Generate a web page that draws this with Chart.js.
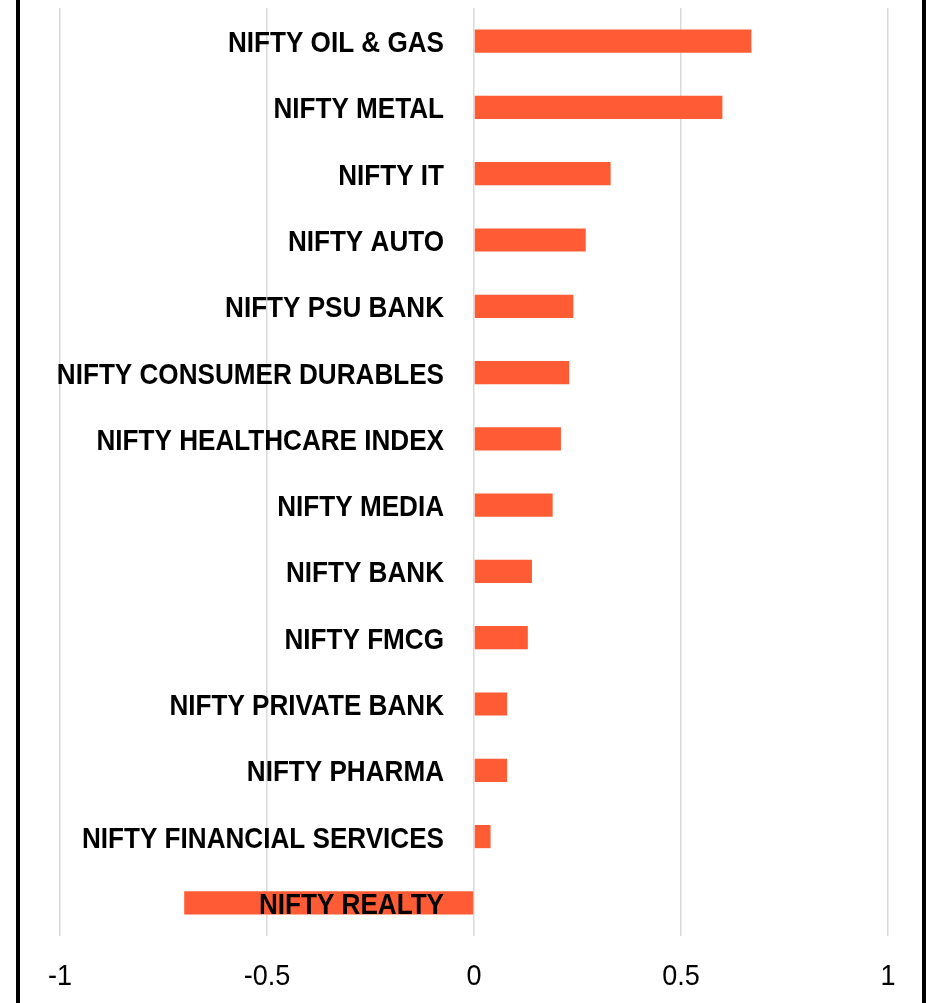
<!DOCTYPE html>
<html>
<head>
<meta charset="utf-8">
<script src="https://cdn.jsdelivr.net/npm/chart.js@4.4.1/dist/chart.umd.min.js"></script>
<style>
    html, body { margin: 0; padding: 0; background: #fff; }
    #wrap { position: relative; width: 926px; height: 1003px; }
    #frame {
        position: absolute; top: 0; bottom: 0; left: 16px; width: 902px;
        border-left: 4px solid #000; border-right: 4px solid #000;
        pointer-events: none;
    }
</style>
</head>
<body>
<div id="wrap">
    <canvas id="chart"></canvas>
    <div id="frame"></div>
</div>
<script>
const sectors = [
    'NIFTY OIL & GAS', 'NIFTY METAL', 'NIFTY IT', 'NIFTY AUTO', 'NIFTY PSU BANK',
    'NIFTY CONSUMER DURABLES', 'NIFTY HEALTHCARE INDEX', 'NIFTY MEDIA', 'NIFTY BANK',
    'NIFTY FMCG', 'NIFTY PRIVATE BANK', 'NIFTY PHARMA', 'NIFTY FINANCIAL SERVICES', 'NIFTY REALTY'
];
const changes = [0.67, 0.60, 0.33, 0.27, 0.24, 0.23, 0.21, 0.19, 0.14, 0.13, 0.08, 0.08, 0.04, -0.70];
const xTicks = [-1, -0.5, 0, 0.5, 1];

const font = "'Liberation Sans', Arial, sans-serif";

// no narrow font installed, so squeeze the text horizontally (Arial Narrow look)
function narrowText(ctx, text, x, y, squeeze) {
    ctx.save();
    ctx.translate(x, y);
    ctx.scale(squeeze, 1);
    ctx.fillText(text, 0, 0);
    ctx.restore();
}

// labels sit next to the zero line, drawn after the bars so REALTY lands on top
const labelsPlugin = {
    id: 'labels',
    afterDraw(chart) {
        const { ctx, scales: { x, y } } = chart;
        ctx.save();
        ctx.fillStyle = '#000';

        ctx.font = 'bold 30px ' + font;
        ctx.textAlign = 'right';
        ctx.textBaseline = 'alphabetic';
        const zero = x.getPixelForValue(0);
        sectors.forEach((name, i) => {
            narrowText(ctx, name, zero - 30, y.getPixelForTick(i) + 11, 0.87);
        });

        ctx.font = '30px ' + font;
        ctx.textAlign = 'center';
        xTicks.forEach(v => {
            narrowText(ctx, String(v), x.getPixelForValue(v), chart.chartArea.bottom + 49, 0.9);
        });
        ctx.restore();
    }
};

var ctx = document.getElementById('chart').getContext('2d');
window.bars = new Chart(ctx, {
    type: 'bar',
    data: {
        labels: sectors,
        datasets: [{
            data: changes,
            backgroundColor: '#ff5c35',
            borderWidth: 0,
            barPercentage: 0.7,
            categoryPercentage: 0.5,
        }]
    },
    options: {
        indexAxis: 'y',
        responsive: true,
        maintainAspectRatio: false,
        animation: false,
        layout: { padding: { top: 8, left: 60, right: 38, bottom: 67 } },
        scales: {
            x: {
                min: xTicks[0],
                max: xTicks[xTicks.length - 1],
                grid: { color: '#d9d9d9', lineWidth: 1.5, drawTicks: false },
                border: { display: false },
                afterBuildTicks: (axis) => { axis.ticks = xTicks.map(v => ({ value: v })); },
                ticks: { display: false },
            },
            y: {
                grid: { display: false, drawTicks: false },
                border: { display: false },
                ticks: { display: false },
            }
        },
        plugins: {
            legend: { display: false },
            tooltip: { enabled: false },
        }
    },
    plugins: [labelsPlugin]
});
</script>
</body>
</html>
